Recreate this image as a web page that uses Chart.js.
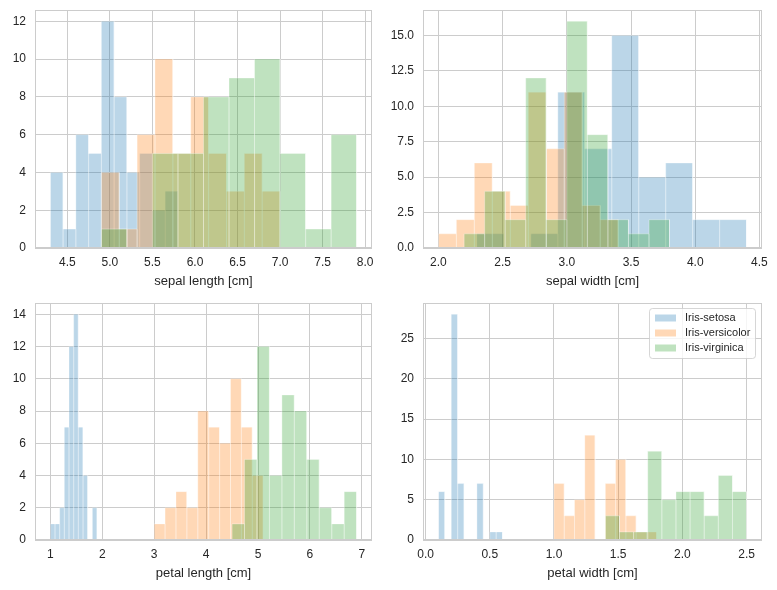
<!DOCTYPE html>
<html lang="en">

<head>
    <meta charset="UTF-8">
    <title>Iris - histograms</title>
    <style>
        body { margin: 0; background: #fff; }
        #wrap { position: relative; width: 777px; height: 590px; }
        #wrap canvas { position: absolute; left: 0; top: 0; }
    </style>
</head>

<body>
    <div id="wrap">
        <canvas id="chartSL" width="777" height="590"></canvas>
        <canvas id="chartSW" width="777" height="590"></canvas>
        <canvas id="chartPL" width="777" height="590"></canvas>
        <canvas id="chartPW" width="777" height="590"></canvas>
    </div>
    <script src="https://cdn.jsdelivr.net/npm/chart.js@4"></script>

    <script>
        var classNames = ['Iris-setosa', 'Iris-versicolor', 'Iris-virginica'];
        var classColors = ['rgba(31, 119, 180, 0.3)', 'rgba(255, 127, 14, 0.3)', 'rgba(44, 160, 44, 0.3)'];

        // sepal length: [min, max] of the 10 bins, then counts
        var slSetosaRange = [4.3, 5.8];
        var slSetosa = [4, 1, 6, 5, 12, 8, 4, 5, 2, 3];
        var slVersicolorRange = [4.9, 7.0];
        var slVersicolor = [4, 1, 6, 10, 5, 8, 5, 3, 5, 3];
        var slVirginicaRange = [4.9, 7.9];
        var slVirginica = [1, 0, 5, 5, 8, 9, 10, 5, 1, 6];

        // sepal width
        var swSetosaRange = [2.3, 4.4];
        var swSetosa = [1, 0, 1, 11, 7, 15, 5, 6, 2, 2];
        var swVersicolorRange = [2.0, 3.4];
        var swVersicolor = [1, 2, 6, 4, 3, 11, 7, 11, 3, 2];
        var swVirginicaRange = [2.2, 3.8];
        var swVirginica = [1, 4, 2, 12, 2, 16, 8, 2, 1, 2];

        // petal length
        var plSetosaRange = [1.0, 1.9];
        var plSetosa = [1, 1, 2, 7, 12, 14, 7, 4, 0, 2];
        var plVersicolorRange = [3.0, 5.1];
        var plVersicolor = [1, 2, 3, 2, 8, 7, 6, 10, 7, 4];
        var plVirginicaRange = [4.5, 6.9];
        var plVirginica = [1, 5, 12, 4, 9, 8, 5, 2, 1, 3];

        // petal width
        var pwSetosaRange = [0.1, 0.6];
        var pwSetosa = [6, 0, 28, 7, 0, 0, 7, 0, 1, 1];
        var pwVersicolorRange = [1.0, 1.8];
        var pwVersicolor = [7, 3, 5, 13, 0, 7, 10, 3, 1, 1];
        var pwVirginicaRange = [1.4, 2.5];
        var pwVirginica = [3, 1, 1, 11, 5, 6, 6, 3, 8, 6];

        // tick labels
        var slTicksX = [4.5, 5.0, 5.5, 6.0, 6.5, 7.0, 7.5, 8.0];
        var slTicksY = [0, 2, 4, 6, 8, 10, 12];
        var swTicksX = [2.0, 2.5, 3.0, 3.5, 4.0, 4.5];
        var swTicksY = [0, 2.5, 5, 7.5, 10, 12.5, 15];
        var plTicksX = [1, 2, 3, 4, 5, 6, 7];
        var plTicksY = [0, 2, 4, 6, 8, 10, 12, 14];
        var pwTicksX = [0, 0.5, 1.0, 1.5, 2.0, 2.5];
        var pwTicksY = [0, 5, 10, 15, 20, 25];

        var fontFamily = '"Liberation Sans", Arial, "DejaVu Sans", sans-serif';
        var textColor = '#262626';
        var gridColor = '#cccccc';

        // outline of one histogram (each bin drawn as its own rectangle)
        function histPoints(range, counts) {
            var w = (range[1] - range[0]) / counts.length;
            var pts = [];
            counts.forEach(function (c, i) {
                var x0 = range[0] + i * w;
                var x1 = range[0] + (i + 1) * w;
                pts.push({ x: x0, y: 0 }, { x: x0, y: c }, { x: x1, y: c }, { x: x1, y: 0 });
            });
            return pts;
        }

        // spines on all four sides
        var framePlugin = {
            id: 'frame',
            afterDatasetsDraw: function (chart) {
                var a = chart.chartArea;
                var ctx = chart.ctx;
                ctx.save();
                ctx.strokeStyle = gridColor;
                ctx.lineWidth = 1;
                ctx.strokeRect(Math.round(a.left) + 0.5, Math.round(a.top) + 0.5,
                    Math.round(a.right - a.left) - 1, Math.round(a.bottom - a.top) - 1);
                ctx.restore();
            }
        };

        // matplotlib style legend, upper right inside the axes
        var boxLegend = {
            id: 'boxLegend',
            afterDraw: function (chart) {
                var a = chart.chartArea;
                var ctx = chart.ctx;
                var w = 106, h = 50;
                var left = a.right - 7 - w;
                var top = a.top + 5;
                ctx.save();
                ctx.beginPath();
                ctx.roundRect(left + 0.5, top + 0.5, w, h, 3);
                ctx.fillStyle = 'rgba(255,255,255,0.8)';
                ctx.fill();
                ctx.strokeStyle = 'rgba(204,204,204,0.8)';
                ctx.lineWidth = 1;
                ctx.stroke();
                ctx.font = '11px ' + fontFamily;
                ctx.textBaseline = 'middle';
                chart.data.datasets.forEach(function (ds, i) {
                    var y = top + 10 + i * 15;
                    ctx.fillStyle = ds.backgroundColor;
                    ctx.fillRect(left + 6, y - 3.5, 21, 7);
                    ctx.fillStyle = textColor;
                    ctx.fillText(ds.label, left + 36, y);
                });
                ctx.restore();
            }
        };

        function drawHist(id, box, xLimits, yMax, xTicks, yTicks, xDigits, yDigits, title, ranges, counts, extra) {
            var plugins = [framePlugin];
            if (extra) plugins.push(extra);
            return new Chart(document.getElementById(id), {
                type: 'line',
                data: {
                    datasets: counts.map(function (c, k) {
                        return {
                            label: classNames[k],
                            data: histPoints(ranges[k], c),
                            order: 2 - k,
                            backgroundColor: classColors[k],
                            borderColor: 'rgba(255,255,255,0.3)',
                            borderWidth: 1,
                            borderJoinStyle: 'bevel',
                            fill: 'origin',
                            pointRadius: 0,
                            tension: 0
                        };
                    })
                },
                options: {
                    responsive: false,
                    animation: false,
                    devicePixelRatio: 1,
                    events: [],
                    layout: {
                        autoPadding: false,
                        padding: { left: box[0] - 35, top: box[1], right: 777 - box[2], bottom: 590 - box[3] - 42 }
                    },
                    plugins: {
                        legend: { display: false },
                        tooltip: { enabled: false }
                    },
                    scales: {
                        x: {
                            type: 'linear',
                            min: xLimits[0],
                            max: xLimits[1],
                            afterBuildTicks: function (s) { s.ticks = xTicks.map(function (v) { return { value: v }; }); },
                            afterFit: function (s) {
                                s.height = 42;
                                s.paddingLeft = 0;
                                s.paddingRight = 0;
                            },
                            grid: { color: gridColor, drawTicks: false },
                            border: { display: false },
                            ticks: {
                                padding: 7, color: textColor, autoSkip: false, maxRotation: 0,
                                font: { family: fontFamily, size: 12 },
                                callback: function (v) { return v.toFixed(xDigits); }
                            },
                            title: {
                                display: true, text: title, color: textColor,
                                font: { family: fontFamily, size: 13 },
                                padding: { top: 0, bottom: 1 }
                            }
                        },
                        y: {
                            min: 0,
                            max: yMax,
                            afterBuildTicks: function (s) { s.ticks = yTicks.map(function (v) { return { value: v }; }); },
                            afterFit: function (s) {
                                s.width = 35;
                                s.paddingTop = 0;
                                s.paddingBottom = 0;
                            },
                            grid: { color: gridColor, drawTicks: false },
                            border: { display: false },
                            ticks: {
                                padding: 9, color: textColor,
                                font: { family: fontFamily, size: 12 },
                                callback: function (v) { return v.toFixed(yDigits); }
                            }
                        }
                    }
                },
                plugins: plugins
            });
        }

        drawHist('chartSL', [35, 10, 372, 248], [4.12, 8.08], 12.6, slTicksX, slTicksY, 1, 0, 'sepal length [cm]',
            [slSetosaRange, slVersicolorRange, slVirginicaRange], [slSetosa, slVersicolor, slVirginica]);
        drawHist('chartSW', [423, 10, 762, 248], [1.88, 4.52], 16.8, swTicksX, swTicksY, 1, 1, 'sepal width [cm]',
            [swSetosaRange, swVersicolorRange, swVirginicaRange], [swSetosa, swVersicolor, swVirginica]);
        drawHist('chartPL', [35, 303, 372, 540], [0.705, 7.195], 14.7, plTicksX, plTicksY, 0, 0, 'petal length [cm]',
            [plSetosaRange, plVersicolorRange, plVirginicaRange], [plSetosa, plVersicolor, plVirginica]);
        drawHist('chartPW', [423, 303, 762, 540], [-0.02, 2.62], 29.4, pwTicksX, pwTicksY, 1, 0, 'petal width [cm]',
            [pwSetosaRange, pwVersicolorRange, pwVirginicaRange], [pwSetosa, pwVersicolor, pwVirginica], boxLegend);
    </script>
</body>

</html>
